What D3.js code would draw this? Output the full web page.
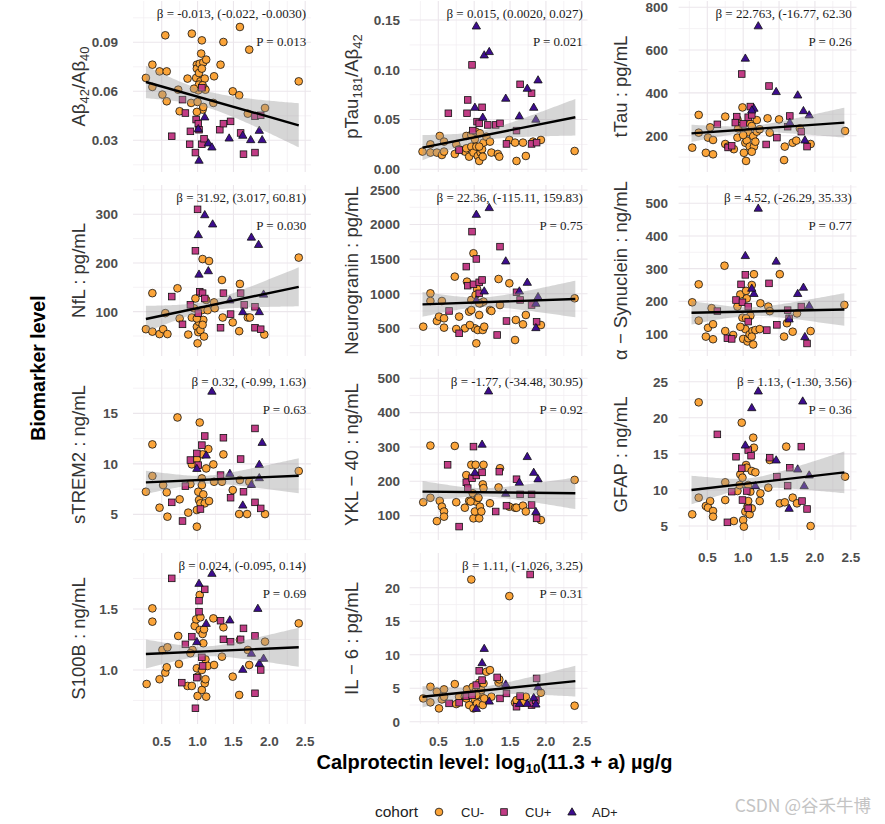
<!DOCTYPE html>
<html><head><meta charset="utf-8">
<script src="https://cdn.jsdelivr.net/npm/d3@7"></script>
<style>body{margin:0;background:#fff}</style>
</head><body><svg id="c" width="885" height="824"></svg>
<script>
// ---------------- DATA ----------------
const xTicks = [0.5, 1.0, 1.5, 2.0, 2.5];
const xTickLabels = ["0.5", "1.0", "1.5", "2.0", "2.5"];
const cohorts = ["CU-", "CU+", "AD+"];

const abCUm = [[0.28,0.0682],[0.37,0.0763],[0.37,0.0627],[0.47,0.0722],[0.55,0.0943],[0.57,0.0722],[0.51,0.058],[0.57,0.0539],[0.73,0.061],[0.75,0.0478],[0.86,0.0678],[0.92,0.0953],[0.91,0.0529],[0.98,0.0682],[0.99,0.0763],[0.99,0.0739],[1.0,0.0535],[1.01,0.0606],[1.02,0.0712],[1.03,0.0769],[1.04,0.0661],[1.05,0.0831],[1.06,0.0912],[1.07,0.0488],[1.08,0.0777],[1.09,0.062],[1.1,0.0678],[1.11,0.061],[1.12,0.0794],[1.06,0.0739],[1.02,0.0641],[1.22,0.0529],[1.23,0.0692],[1.32,0.0763],[1.36,0.0902],[1.49,0.06],[1.58,0.0576],[1.59,0.0994],[1.72,0.0855],[1.70,0.0463],[1.94,0.0498],[2.41,0.0661],[0.99,0.0474],[1.08,0.0504],[0.95,0.0616],[1.07,0.0637]];
const abCUp = [[0.64,0.0325],[0.79,0.0549],[0.83,0.0467],[0.98,0.0427],[1.01,0.0402],[1.02,0.0365],[0.9,0.0355],[0.89,0.0276],[0.97,0.0225],[1.06,0.0276],[1.09,0.031],[1.31,0.0365],[1.36,0.0402],[1.46,0.0416],[1.6,0.0345],[1.64,0.0215],[1.8,0.0225],[1.8,0.0447],[1.06,0.0622],[1.88,0.0453]];
const abAD = [[1.1,0.0443],[1.02,0.0178],[1.15,0.0284],[1.2,0.0259],[1.44,0.0314],[1.63,0.0331],[1.74,0.0304],[1.86,0.0361],[1.9,0.0304],[1.01,0.0371]];

const ptCUm = [[0.28,0.0178],[0.39,0.0168],[0.39,0.0251],[0.48,0.0168],[0.52,0.0335],[0.55,0.0144],[0.58,0.0178],[0.58,0.0278],[0.73,0.0154],[0.75,0.0251],[0.79,0.0201],[0.87,0.0178],[0.89,0.0211],[0.93,0.0127],[0.96,0.0228],[0.99,0.0168],[1.01,0.0302],[1.03,0.0228],[1.05,0.0134],[1.07,0.0084],[1.09,0.0168],[1.11,0.0201],[1.12,0.0127],[1.13,0.0268],[1.17,0.0328],[1.22,0.0278],[1.24,0.0168],[1.33,0.0154],[1.35,0.0127],[1.49,0.0295],[1.57,0.0268],[1.59,0.0084],[1.68,0.0268],[1.72,0.0134],[1.82,0.0278],[1.93,0.0295],[2.4,0.0184],[0.89,0.0335],[0.96,0.0345],[1.07,0.0228],[1.02,0.0379],[1.08,0.0362]];
const ptCUp = [[0.64,0.0563],[0.91,0.0697],[0.9,0.0563],[0.97,0.1049],[1.04,0.0479],[1.07,0.0462],[1.11,0.0623],[0.98,0.0389],[1.19,0.0446],[1.3,0.0446],[1.36,0.0462],[1.45,0.0255],[1.59,0.0389],[1.64,0.0854],[1.8,0.0764],[1.8,0.0255],[1.87,0.0268],[0.79,0.0194]];
const ptAD = [[1.03,0.144],[1.01,0.0623],[1.12,0.0523],[1.14,0.1149],[1.21,0.1183],[1.44,0.0714],[1.63,0.0536],[1.74,0.0814],[1.83,0.0623],[1.89,0.0898],[1.86,0.0503]];

const ttCUm = [[0.29,144],[0.38,297],[0.38,214],[0.48,120],[0.54,239],[0.51,191],[0.58,180],[0.58,113],[0.75,289],[0.75,161],[0.79,149],[0.87,137],[0.92,191],[0.92,276],[0.99,332],[1.01,120],[1.03,167],[1.04,82],[1.05,177],[1.07,216],[1.09,149],[1.1,255],[1.12,245],[1.14,198],[1.15,149],[1.17,172],[1.19,219],[1.23,230],[1.34,281],[1.37,214],[1.5,276],[1.58,149],[1.57,86],[1.69,167],[1.74,177],[1.79,234],[1.94,161],[2.42,222],[0.93,234],[1.0,203],[1.12,125],[1.19,273]];
const ttCUp = [[0.64,253],[0.79,145],[0.84,153],[0.91,289],[0.98,488],[1.0,255],[1.07,286],[1.12,297],[1.1,336],[1.32,159],[1.36,432],[1.47,191],[1.62,242],[1.65,292],[1.81,219],[1.89,149],[0.89,261]];
const ttAD = [[1.03,562],[1.21,713],[1.15,328],[1.12,320],[1.46,406],[1.76,390],[1.84,317],[1.86,180],[1.92,297],[1.65,262]];

const nfCUm = [[0.28,64],[0.37,138],[0.37,59],[0.47,54],[0.52,64],[0.55,97],[0.58,54],[0.72,148],[0.75,86],[0.87,53],[0.92,88],[0.97,127],[0.99,69],[1.0,35],[1.01,58],[1.02,79],[1.04,62],[1.06,103],[1.07,208],[1.08,83],[1.09,49],[1.12,124],[1.14,103],[1.16,204],[1.23,119],[1.24,107],[1.34,165],[1.35,88],[1.49,78],[1.58,60],[1.59,157],[1.7,88],[1.73,88],[1.93,53],[2.41,211],[0.99,86],[1.07,73],[0.95,107]];
const nfCUp = [[0.64,131],[0.79,74],[0.9,114],[0.97,225],[1.0,310],[1.03,141],[1.07,138],[1.1,127],[1.32,67],[1.36,138],[1.46,95],[1.6,138],[1.65,114],[1.8,110],[1.8,67],[1.88,64],[1.01,97]];
const nfAD = [[1.01,258],[1.02,177],[1.1,299],[1.15,184],[1.21,280],[1.45,124],[1.63,100],[1.75,253],[1.85,238],[1.86,100],[1.92,136]];

const ngCUm = [[0.29,524],[0.39,1006],[0.39,895],[0.48,606],[0.55,895],[0.51,669],[0.58,645],[0.58,510],[0.73,1247],[0.75,490],[0.79,669],[0.87,500],[0.9,1175],[0.93,741],[0.96,910],[0.99,1585],[1.01,500],[1.03,283],[1.04,1069],[1.05,476],[1.07,693],[1.09,862],[1.12,476],[1.13,886],[1.14,524],[1.22,765],[1.24,751],[1.34,1213],[1.36,837],[1.49,1151],[1.58,621],[1.57,331],[1.68,558],[1.72,693],[1.93,548],[2.4,934],[0.96,765],[1.07,862],[1.02,982],[0.94,548]];
const ngCUp = [[0.65,751],[0.79,428],[0.89,1392],[0.91,1117],[0.97,1898],[0.99,1136],[1.03,1503],[1.07,1165],[1.11,1199],[1.07,1006],[1.32,404],[1.36,1681],[1.45,606],[1.59,1021],[1.64,910],[1.8,837],[1.87,596]];
const ngAD = [[1.03,2148],[1.21,2245],[1.14,1040],[1.03,910],[1.44,1474],[1.63,1040],[1.74,1165],[1.86,862],[1.89,958],[1.86,510]];

const syCUm = [[0.29,197],[0.38,252],[0.38,141],[0.48,92],[0.51,119],[0.56,179],[0.58,130],[0.58,84],[0.74,309],[0.75,109],[0.86,97],[0.92,184],[0.96,221],[0.99,150],[1.0,85],[1.03,115],[1.04,232],[1.05,209],[1.06,77],[1.07,87],[1.09,99],[1.1,156],[1.12,250],[1.13,109],[1.15,283],[1.14,68],[1.17,112],[1.23,115],[1.24,194],[1.35,184],[1.37,170],[1.51,283],[1.57,92],[1.61,133],[1.69,107],[1.75,163],[1.94,109],[2.41,189],[0.96,122],[1.04,148],[1.12,92]];
const syCUp = [[0.64,170],[0.78,87],[0.84,85],[0.9,204],[0.97,252],[0.99,197],[1.03,281],[1.07,184],[1.07,138],[1.33,112],[1.36,255],[1.47,128],[1.62,173],[1.64,148],[1.81,184],[1.89,71]];
const syAD = [[1.03,340],[1.21,485],[1.15,224],[1.12,240],[1.46,323],[1.64,146],[1.76,224],[1.84,243],[1.92,187],[1.86,92]];

const stCUm = [[0.28,7.24],[0.37,11.93],[0.37,8.8],[0.47,5.66],[0.52,7.9],[0.57,7.18],[0.58,4.77],[0.72,14.6],[0.75,6.49],[0.87,5.17],[0.92,9.95],[0.99,10.48],[0.99,3.78],[0.99,5.43],[1.01,7.24],[1.02,6.42],[1.03,14.1],[1.04,6.09],[1.06,8.56],[1.07,10.94],[1.08,6.98],[1.1,6.09],[1.12,9.55],[1.15,11.47],[1.16,6.32],[1.22,9.95],[1.23,8.23],[1.34,8.23],[1.36,10.94],[1.49,7.41],[1.58,5.03],[1.59,8.4],[1.69,5.03],[1.72,8.23],[1.94,5.03],[2.41,9.29],[0.9,8.0],[1.06,7.9]];
const stCUp = [[0.64,6.19],[0.79,4.34],[0.83,7.8],[0.9,10.38],[0.99,11.04],[1.01,9.88],[1.06,11.86],[1.04,5.53],[1.1,12.76],[1.36,12.59],[1.46,6.65],[1.6,10.48],[1.64,7.24],[1.8,13.51],[1.8,6.19],[1.88,5.59],[1.32,8.89]];
const stAD = [[0.99,9.55],[1.12,10.87],[1.2,17.2],[1.45,9.06],[1.63,5.92],[1.75,7.97],[1.86,9.95],[1.9,12.13],[1.86,8.63]];

const ykCUm = [[0.29,139],[0.39,304],[0.39,152],[0.48,84],[0.52,143],[0.55,126],[0.58,112],[0.58,97],[0.73,303],[0.75,139],[0.87,123],[0.89,218],[0.93,143],[0.96,248],[0.98,165],[0.99,92],[1.01,112],[1.02,248],[1.03,141],[1.05,152],[1.07,92],[1.08,126],[1.1,112],[1.12,191],[1.13,248],[1.13,180],[1.22,136],[1.34,182],[1.36,238],[1.49,126],[1.57,123],[1.59,123],[1.68,129],[1.72,112],[1.93,87],[2.4,204],[0.95,141],[1.06,152]];
const ykCUp = [[0.63,248],[0.79,68],[0.89,197],[0.91,180],[0.97,209],[0.99,301],[1.03,217],[1.11,226],[1.3,112],[1.35,228],[1.45,129],[1.59,206],[1.64,162],[1.8,162],[1.8,131],[1.87,92]];
const ykAD = [[1.11,308],[1.2,463],[1.01,226],[1.44,165],[1.63,197],[1.74,272],[1.83,226],[1.89,207],[1.86,112]];

const gfCUm = [[0.29,6.62],[0.38,22.14],[0.38,8.93],[0.48,7.77],[0.54,8.46],[0.51,7.54],[0.58,7.08],[0.58,6.29],[0.75,11.05],[0.75,8.6],[0.87,5.69],[0.92,9.85],[0.96,12.16],[0.98,19.32],[0.99,11.7],[1.0,5.83],[1.01,4.91],[1.03,6.99],[1.04,13.45],[1.05,13.08],[1.06,7.68],[1.07,8.46],[1.09,6.62],[1.1,9.76],[1.12,12.62],[1.14,17.24],[1.15,15.85],[1.17,12.44],[1.23,8.46],[1.24,9.53],[1.35,10.31],[1.37,14.15],[1.51,8.14],[1.6,16.0],[1.58,8.28],[1.69,8.93],[1.75,8.14],[1.94,5.0],[2.42,11.84],[0.95,10.68],[1.07,10.68],[1.12,7.45]];
const gfCUp = [[0.64,17.7],[0.78,5.51],[0.84,9.76],[0.9,14.6],[0.98,12.99],[0.99,8.6],[1.07,15.53],[1.07,7.45],[1.11,14.75],[1.37,14.47],[1.47,11.84],[1.62,10.59],[1.65,13.08],[1.81,16.0],[1.82,8.46],[1.89,7.36],[1.05,9.85]];
const gfAD = [[1.03,16.22],[1.12,21.4],[1.21,23.71],[1.17,10.59],[1.46,14.15],[1.64,7.45],[1.76,12.9],[1.83,22.32],[1.85,10.59],[1.92,12.07]];

const sbCUm = [[0.29,0.885],[0.37,1.505],[0.37,1.396],[0.47,0.924],[0.51,1.164],[0.55,0.978],[0.57,1.022],[0.58,1.186],[0.74,1.049],[0.73,1.279],[0.86,0.869],[0.92,0.869],[0.93,1.164],[0.96,1.361],[0.98,1.415],[0.99,1.014],[1.0,0.787],[1.0,0.945],[1.03,1.328],[1.03,1.615],[1.04,1.432],[1.06,0.836],[1.07,1.295],[1.08,1.219],[1.09,1.333],[1.1,0.891],[1.11,0.924],[1.11,1.087],[1.12,0.781],[1.14,1.033],[1.22,1.423],[1.23,1.041],[1.34,1.109],[1.36,1.35],[1.49,0.945],[1.58,0.795],[1.59,1.246],[1.7,1.164],[1.72,1.041],[1.94,1.232],[2.41,1.382],[0.9,1.137],[1.06,1.0]];
const sbCUp = [[0.64,1.751],[0.78,0.896],[0.83,1.21],[0.92,1.273],[0.97,0.686],[0.99,0.937],[1.02,1.568],[1.02,1.478],[1.06,1.104],[1.1,1.661],[1.07,1.033],[1.32,1.404],[1.36,1.251],[1.46,1.232],[1.6,1.251],[1.64,1.341],[1.8,1.279],[1.8,0.809],[1.88,1.0]];
const sbAD = [[0.99,1.232],[1.02,1.71],[1.12,1.382],[1.2,1.792],[1.45,1.41],[1.63,1.005],[1.75,1.137],[1.84,1.505],[1.86,1.055],[1.92,1.096]];

const ilCUm = [[0.29,3.48],[0.39,5.22],[0.39,2.89],[0.48,4.48],[0.51,1.99],[0.55,3.33],[0.58,4.83],[0.58,3.73],[0.73,5.62],[0.75,2.64],[0.79,3.73],[0.87,3.73],[0.9,4.83],[0.93,2.49],[0.96,21.24],[0.98,5.22],[0.99,1.99],[1.01,3.33],[1.02,4.48],[1.04,2.74],[1.05,5.22],[1.07,5.82],[1.09,3.98],[1.1,4.73],[1.12,2.49],[1.13,5.72],[1.14,3.48],[1.17,7.46],[1.22,7.71],[1.24,3.73],[1.34,5.82],[1.35,6.32],[1.49,18.76],[1.57,2.84],[1.59,3.23],[1.68,2.84],[1.72,3.73],[1.93,4.33],[2.4,2.39],[0.89,3.48],[1.03,3.98]];
const ilCUp = [[0.65,2.74],[0.79,2.84],[0.89,3.83],[0.97,3.98],[1.03,5.47],[1.07,7.61],[1.11,6.22],[1.32,6.62],[1.36,3.48],[1.45,4.23],[1.59,2.24],[1.64,3.83],[1.8,2.49],[1.78,21.99],[1.87,6.47],[1.86,3.23]];
const ilAD = [[1.03,1.99],[1.11,8.81],[1.14,10.95],[1.21,3.08],[1.44,5.62],[1.63,2.74],[1.74,2.74],[1.83,3.63],[1.89,5.22],[1.86,2.64]];

// y-axis titles (segments: [text, isSubscript])
const yTitles = [
  [["Aβ",0],["42",1],["/Aβ",0],["40",1]],
  [["pTau",0],["181",1],["/Aβ",0],["42",1]],
  [["tTau : pg/mL",0]],
  [["NfL : pg/mL",0]],
  [["Neurogranin : pg/mL",0]],
  [["α − Synuclein : ng/mL",0]],
  [["sTREM2 : ng/mL",0]],
  [["YKL − 40 : ng/mL",0]],
  [["GFAP : ng/mL",0]],
  [["S100B : ng/mL",0]],
  [["IL − 6 : pg/mL",0]]
];
const yTicks = [[0.03,0.06,0.09],[0,0.05,0.10,0.15],[200,400,600,800],[100,200,300],[500,1000,1500,2000,2500],[100,200,300,400,500],[5,10,15],[100,200,300,400,500],[5,10,15,20,25],[1.0,1.5],[0,5,10,15,20]];
const yTickLabels = [["0.03","0.06","0.09"],["0.00","0.05","0.10","0.15"],["200","400","600","800"],["100","200","300"],["500","1000","1500","2000","2500"],["100","200","300","400","500"],["5","10","15"],["100","200","300","400","500"],["5","10","15","20","25"],["1.0","1.5"],["0","5","10","15","20"]];
const yDomains = [[0.0106,0.1153],[-0.0027,0.1691],[30.4,829],[9,360],[100,2572],[32.7,556],[2.46,19.4],[29,527],[3.06,26.76],[0.557,1.959],[-0.34,25.2]];
const betaTexts = ["β = -0.013, (-0.022, -0.0030)","β = 0.015, (0.0020, 0.027)","β = 22.763, (-16.77, 62.30","β = 31.92, (3.017, 60.81)","β = 22.36, (-115.11, 159.83)","β = 4.52, (-26.29, 35.33)","β = 0.32, (-0.99, 1.63)","β = -1.77, (-34.48, 30.95)","β = 1.13, (-1.30, 3.56)","β = 0.024, (-0.095, 0.14)","β = 1.11, (-1.026, 3.25)"];
const pTexts = ["P = 0.013","P = 0.021","P = 0.26","P = 0.030","P = 0.75","P = 0.77","P = 0.63","P = 0.92","P = 0.36","P = 0.69","P = 0.31"];
// fitted line (value at x min / x max) and CI half-widths (left end, narrowest, right end)
const fitX = [0.28, 2.41];
const fitLeft = [0.0657,0.0218,211,85,847,165,8.17,170,9.99,1.131,3.73];
const fitRight = [0.0392,0.0523,261,151,924,175,8.83,165,12.44,1.186,6.07];
const bandLeft = [0.0099,0.0126,40,27,180,36,1.15,31,1.98,0.119,1.6];
const bandMid = [0.005,0.005,15,10,70,13,0.4,12,0.7,0.04,0.6];
const bandRight = [0.0135,0.0184,70,40,265,50,1.73,46,2.9,0.16,2.3];

// ---------------- LAYOUT ----------------
const svg = d3.select("#c");
const COLORS = {"CU-":"#FBA439","CU+":"#C13C85","AD+":"#3D0C8F"};
const SANS = "'Liberation Sans', Arial, sans-serif";
const SERIF = "'Liberation Serif', 'Times New Roman', serif";
const xDomain = [0.1, 2.58];
const colX05 = [161.7, 438.3, 707.3];   // pixel position of x = 0.5 per column
const unitPx = 71.75;
const rowTop = [1, 185, 369, 553];
const panelH = 171;
const yLabelRight = [118, 400, 668];
const yTitleX = [85, 358, 627];
const panelData = [
  [abCUm,abCUp,abAD],[ptCUm,ptCUp,ptAD],[ttCUm,ttCUp,ttAD],
  [nfCUm,nfCUp,nfAD],[ngCUm,ngCUp,ngAD],[syCUm,syCUp,syAD],
  [stCUm,stCUp,stAD],[ykCUm,ykCUp,ykAD],[gfCUm,gfCUp,gfAD],
  [sbCUm,sbCUp,sbAD],[ilCUm,ilCUp,ilAD]
];
const showX = [false,false,false,false,false,false,false,false,true,true,true];

const triPath = d3.symbol(d3.symbolTriangle, 30)();
function drawShape(g, kind, x, y) {
  if (kind === 0) {
    g.append("circle").attr("cx", x).attr("cy", y).attr("r", 3.85)
      .attr("fill", COLORS["CU-"]).attr("stroke", "#111").attr("stroke-width", 0.8);
  } else if (kind === 1) {
    g.append("rect").attr("x", x - 3.3).attr("y", y - 3.3).attr("width", 6.6).attr("height", 6.6)
      .attr("fill", COLORS["CU+"]).attr("stroke", "#111").attr("stroke-width", 0.8);
  } else {
    g.append("path").attr("d", triPath).attr("transform", `translate(${x},${y + 0.6})`)
      .attr("fill", COLORS["AD+"]).attr("stroke", "#111").attr("stroke-width", 0.8);
  }
}

const defs = svg.append("defs");

panelData.forEach((groups, p) => {
  const col = p % 3, row = Math.floor(p / 3);
  const left = colX05[col] - (0.5 - xDomain[0]) * unitPx;
  const right = left + (xDomain[1] - xDomain[0]) * unitPx;
  const top = rowTop[row], bottom = top + panelH;
  const x = d3.scaleLinear().domain(xDomain).range([left, right]);
  const y = d3.scaleLinear().domain(yDomains[p]).range([bottom, top]);
  const g = svg.append("g");

  defs.append("clipPath").attr("id", "clip" + p).append("rect")
    .attr("x", left).attr("y", top).attr("width", right - left).attr("height", panelH);

  // grid: minor then major
  const grid = g.append("g");
  const xMinor = d3.range(0.25, 2.6, 0.5).filter(v => v > xDomain[0] && v < xDomain[1]);
  const ticks = yTicks[p];
  const step = ticks[1] - ticks[0];
  const yMinor = [];
  for (let v = ticks[0] - step / 2; v >= yDomains[p][0]; v -= step) yMinor.push(v);
  for (let v = ticks[0] + step / 2; v <= yDomains[p][1]; v += step) yMinor.push(v);
  grid.selectAll(".vm").data(xMinor).join("line")
    .attr("x1", d => x(d)).attr("x2", d => x(d)).attr("y1", top).attr("y2", bottom)
    .attr("stroke", "#f3eff3").attr("stroke-width", 0.8);
  grid.selectAll(".hm").data(yMinor).join("line")
    .attr("x1", left).attr("x2", right).attr("y1", d => y(d)).attr("y2", d => y(d))
    .attr("stroke", "#f3eff3").attr("stroke-width", 0.8);
  grid.selectAll(".vM").data(xTicks).join("line")
    .attr("x1", d => x(d)).attr("x2", d => x(d)).attr("y1", top).attr("y2", bottom)
    .attr("stroke", "#ebe6eb").attr("stroke-width", 1.1);
  grid.selectAll(".hM").data(ticks).join("line")
    .attr("x1", left).attr("x2", right).attr("y1", d => y(d)).attr("y2", d => y(d))
    .attr("stroke", "#ebe6eb").attr("stroke-width", 1.1);

  // y tick labels
  g.append("g").selectAll("text").data(ticks).join("text")
    .attr("x", yLabelRight[col]).attr("y", d => y(d)).attr("dy", "0.36em")
    .attr("text-anchor", "end").attr("font-family", SANS).attr("font-weight", "bold")
    .attr("font-size", 13.5).attr("fill", "#4d4d4d")
    .text((d, i) => yTickLabels[p][i]);

  // x tick labels
  if (showX[p]) {
    g.append("g").selectAll("text").data(xTicks).join("text")
      .attr("x", d => x(d)).attr("y", bottom + 22)
      .attr("text-anchor", "middle").attr("font-family", SANS).attr("font-weight", "bold")
      .attr("font-size", 13.5).attr("fill", "#4d4d4d")
      .text((d, i) => xTickLabels[i]);
  }

  // y title
  const cy = top + panelH / 2;
  const tt = g.append("text").attr("transform", `translate(${yTitleX[col]},${cy}) rotate(-90)`)
    .attr("text-anchor", "middle").attr("font-family", SANS).attr("font-size", 18.5).attr("fill", "#333");
  yTitles[p].forEach(seg => {
    const ts = tt.append("tspan").text(seg[0]);
    if (seg[1]) ts.attr("font-size", 13).attr("baseline-shift", "-28%");
  });

  // points
  const pg = g.append("g").attr("clip-path", `url(#clip${p})`);
  groups.forEach((arr, k) => arr.forEach(d => drawShape(pg, k, x(d[0]), y(d[1]))));

  // confidence band + line
  const xm = 1.1;
  const a = bandMid[p];
  const bL = Math.sqrt(Math.max(bandLeft[p] ** 2 - a * a, 0)) / (xm - fitX[0]);
  const bR = Math.sqrt(Math.max(bandRight[p] ** 2 - a * a, 0)) / (fitX[1] - xm);
  const fit = t => fitLeft[p] + (fitRight[p] - fitLeft[p]) * (t - fitX[0]) / (fitX[1] - fitX[0]);
  const hw = t => Math.sqrt(a * a + (t < xm ? bL : bR) ** 2 * (t - xm) ** 2);
  const xs = d3.range(0, 81).map(i => fitX[0] + (fitX[1] - fitX[0]) * i / 80);
  pg.append("path").datum(xs)
    .attr("d", d3.area().x(t => x(t)).y0(t => y(fit(t) - hw(t))).y1(t => y(fit(t) + hw(t))))
    .attr("fill", "#999").attr("fill-opacity", 0.4);
  pg.append("path").datum(fitX)
    .attr("d", d3.line().x(t => x(t)).y(t => y(fit(t))))
    .attr("stroke", "#000").attr("stroke-width", 2.4).attr("fill", "none");

  // annotations
  g.append("text").attr("x", x(2.5) + 1).attr("y", top + 17).attr("text-anchor", "end")
    .attr("font-family", SERIF).attr("font-size", 13).attr("fill", "#1a1a1a").text(betaTexts[p]);
  g.append("text").attr("x", x(2.5) + 1).attr("y", top + 45).attr("text-anchor", "end")
    .attr("font-family", SERIF).attr("font-size", 13).attr("fill", "#1a1a1a").text(pTexts[p]);
});

// global axis titles
svg.append("text").attr("transform", "translate(45,368) rotate(-90)")
  .attr("text-anchor", "middle").attr("font-family", SANS).attr("font-weight", "bold")
  .attr("font-size", 19.5).attr("fill", "#000").text("Biomarker level");
const xt = svg.append("text").attr("x", 494.5).attr("y", 769).attr("text-anchor", "middle")
  .attr("font-family", SANS).attr("font-weight", "bold").attr("font-size", 20).attr("fill", "#000");
xt.append("tspan").text("Calprotectin level: log");
xt.append("tspan").text("10").attr("font-size", 13.5).attr("baseline-shift", "-25%");
xt.append("tspan").text("(11.3 + a) µg/g");

// legend
const lg = svg.append("g");
const ly = 812;
lg.append("text").attr("x", 375).attr("y", ly).attr("dy", "0.35em").attr("font-family", SANS)
  .attr("font-size", 15.5).attr("fill", "#222").text("cohort");
const legX = [439, 504, 572];
const legTX = [461, 525, 592];
cohorts.forEach((c, k) => {
  drawShape(lg, k, legX[k], ly);
  lg.append("text").attr("x", legTX[k]).attr("y", ly).attr("dy", "0.35em").attr("font-family", SANS)
    .attr("font-size", 13).attr("fill", "#222").text(c);
});

// watermark
svg.append("text").attr("x", 871).attr("y", 806).attr("dy", "0.35em").attr("text-anchor", "end")
  .attr("font-family", "'Noto Sans CJK SC', sans-serif").attr("font-size", 17.5).attr("fill", "#c4c4c4")
  .text("CSDN @谷禾牛博");
</script></body></html>
